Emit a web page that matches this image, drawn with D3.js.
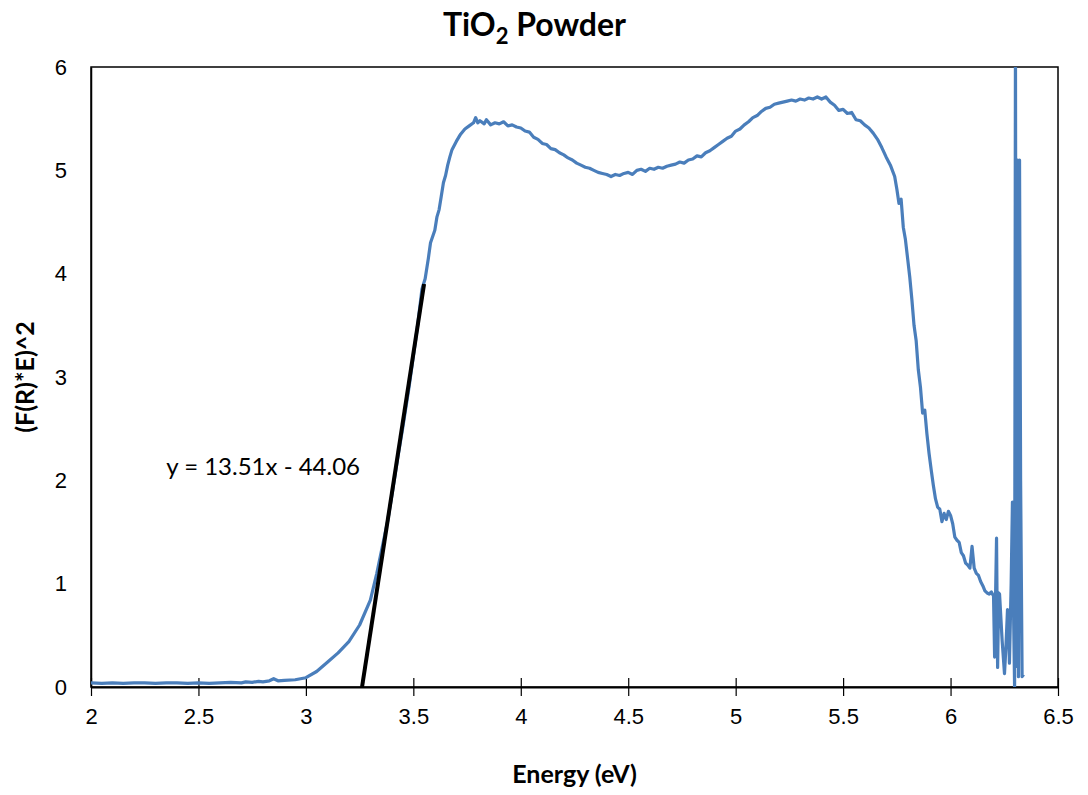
<!DOCTYPE html>
<html>
<head>
<meta charset="utf-8">
<script src="https://cdn.jsdelivr.net/npm/d3@7"></script>
<style>
	body { margin: 0; background: #fff; }
	svg { font-family: Lato, 'Open Sans', sans-serif; }
	.tick-label { fill: #000; }
	.axis-title { font-size: 25px; font-weight: bold; }
</style>
</head>
<body>
<svg id="chart-svg" width="1088" height="795"></svg>
<script>
// spectrum points: energy (eV) and (F(R)*E)^2
const energy = [
	2.00, 2.05, 2.10, 2.15, 2.20, 2.25, 2.30, 2.35, 2.40, 2.45, 2.50, 2.55, 2.60, 2.65, 2.70, 2.72, 2.75, 2.78, 2.80, 2.83,
	2.85, 2.87, 2.90, 2.95, 3.00, 3.05, 3.10, 3.15, 3.20, 3.25, 3.30, 3.33, 3.35, 3.38, 3.40, 3.43, 3.45, 3.48, 3.50, 3.52,
	3.54, 3.555, 3.57, 3.58, 3.60, 3.61, 3.62, 3.63, 3.64, 3.65, 3.66, 3.67, 3.68, 3.70, 3.72, 3.74, 3.76, 3.78, 3.79, 3.80,
	3.81, 3.83, 3.84, 3.86, 3.88, 3.90, 3.92, 3.94, 3.96, 3.98, 4.00, 4.02, 4.04, 4.06, 4.08, 4.10, 4.12, 4.14, 4.16, 4.18,
	4.20, 4.22, 4.24, 4.26, 4.28, 4.30, 4.32, 4.34, 4.36, 4.38, 4.40, 4.42, 4.44, 4.46, 4.48, 4.50, 4.52, 4.54, 4.56, 4.58,
	4.60, 4.62, 4.64, 4.66, 4.68, 4.70, 4.72, 4.74, 4.76, 4.78, 4.80, 4.82, 4.84, 4.86, 4.88, 4.90, 4.92, 4.94, 4.96, 4.98,
	5.00, 5.02, 5.04, 5.06, 5.08, 5.10, 5.12, 5.14, 5.16, 5.18, 5.20, 5.22, 5.24, 5.26, 5.28, 5.30, 5.32, 5.34, 5.36, 5.38,
	5.40, 5.42, 5.44, 5.46, 5.48, 5.50, 5.52, 5.54, 5.56, 5.58, 5.60, 5.62, 5.64, 5.66, 5.68, 5.70, 5.72, 5.74, 5.75, 5.76,
	5.77, 5.78, 5.79, 5.80, 5.81, 5.82, 5.83, 5.84, 5.85, 5.86, 5.87, 5.88, 5.89, 5.90, 5.91, 5.92, 5.93, 5.94, 5.95, 5.96,
	5.97, 5.98, 5.99, 6.00, 6.01, 6.02, 6.03, 6.04, 6.05, 6.06, 6.07, 6.08, 6.09, 6.10, 6.11, 6.12, 6.13, 6.14, 6.15, 6.16,
	6.17, 6.18, 6.19, 6.20, 6.205, 6.21, 6.214, 6.219, 6.224, 6.228, 6.24, 6.251, 6.258, 6.265, 6.27, 6.274, 6.282, 6.288, 6.294, 6.298,
	6.302, 6.306, 6.312, 6.316, 6.321, 6.326, 6.333, 6.340
];
const absorb = [
	0.04, 0.035, 0.04, 0.035, 0.04, 0.04, 0.035, 0.04, 0.04, 0.035, 0.04, 0.035, 0.04, 0.045, 0.04, 0.05, 0.045, 0.055, 0.05, 0.06,
	0.08, 0.06, 0.065, 0.07, 0.09, 0.15, 0.24, 0.33, 0.44, 0.60, 0.84, 1.10, 1.30, 1.60, 1.85, 2.25, 2.50, 2.90, 3.20, 3.50,
	3.85, 3.95, 4.15, 4.30, 4.42, 4.55, 4.62, 4.75, 4.88, 4.95, 5.05, 5.13, 5.20, 5.28, 5.35, 5.40, 5.43, 5.46, 5.51, 5.46,
	5.48, 5.45, 5.49, 5.44, 5.46, 5.45, 5.47, 5.43, 5.44, 5.42, 5.41, 5.38, 5.37, 5.32, 5.30, 5.26, 5.25, 5.21, 5.20, 5.17,
	5.15, 5.12, 5.10, 5.07, 5.05, 5.03, 5.02, 5.00, 4.98, 4.97, 4.96, 4.94, 4.96, 4.95, 4.97, 4.98, 4.96, 5.00, 5.01, 4.99,
	5.02, 5.01, 5.03, 5.02, 5.04, 5.05, 5.06, 5.08, 5.07, 5.10, 5.11, 5.14, 5.13, 5.17, 5.19, 5.22, 5.25, 5.28, 5.31, 5.33,
	5.38, 5.40, 5.44, 5.47, 5.51, 5.53, 5.57, 5.60, 5.61, 5.64, 5.65, 5.66, 5.67, 5.68, 5.67, 5.69, 5.68, 5.70, 5.69, 5.71,
	5.69, 5.71, 5.66, 5.63, 5.58, 5.59, 5.55, 5.56, 5.49, 5.48, 5.44, 5.41, 5.36, 5.30, 5.22, 5.13, 5.05, 4.94, 4.82, 4.68,
	4.72, 4.45, 4.33, 4.15, 3.97, 3.75, 3.50, 3.35, 3.07, 2.90, 2.65, 2.68, 2.45, 2.26, 2.10, 1.95, 1.82, 1.74, 1.72, 1.60,
	1.68, 1.62, 1.70, 1.66, 1.58, 1.45, 1.42, 1.40, 1.30, 1.27, 1.20, 1.18, 1.15, 1.36, 1.15, 1.10, 1.08, 1.02, 0.98, 0.93,
	0.91, 0.90, 0.92, 0.88, 0.29, 0.95, 1.44, 0.19, 0.91, 0.90, 0.45, 0.13, 0.40, 0.75, 0.55, 0.23, 1.00, 1.79, 0.60, 0.00,
	6.30, 0.20, 5.10, 0.10, 5.10, 2.00, 0.10, 0.12
];

// linear fit shown on the chart
const fitSlope = 13.51;
const fitIntercept = -44.06;
const fitRange = [44.06 / 13.51, 3.55];
const fitLabel = 'y = 13.51x - 44.06';

const xTicks = [2, 2.5, 3, 3.5, 4, 4.5, 5, 5.5, 6, 6.5];
const yTicks = [0, 1, 2, 3, 4, 5, 6];

const PADDING = { top: 67, bottom: 108, left: 91, right: 30 };
const svg = d3.select('#chart-svg');
const W = 1088, H = 795;
const TICK_FONT = '22px';

const xScale = d3.scaleLinear().domain([2, 6.5]).range([PADDING.left, W - PADDING.right]);
const yScale = d3.scaleLinear().domain([0, 6]).range([H - PADDING.bottom, PADDING.top]);

svg.append('defs').append('clipPath').attr('id', 'plot-clip')
	.append('rect')
	.attr('x', PADDING.left).attr('y', PADDING.top)
	.attr('width', W - PADDING.left - PADDING.right)
	.attr('height', H - PADDING.top - PADDING.bottom);

// plot frame
svg.append('rect')
	.attr('x', PADDING.left).attr('y', PADDING.top)
	.attr('width', W - PADDING.left - PADDING.right)
	.attr('height', H - PADDING.top - PADDING.bottom)
	.attr('fill', 'none').attr('stroke', '#000').attr('stroke-width', 1.5);

// x axis with crossing ticks
const xAxis = d3.axisBottom(xScale).tickValues(xTicks).tickSizeInner(9).tickSizeOuter(0).tickFormat(d3.format('~g'));
const xg = svg.append('g')
	.attr('transform', 'translate(0,' + yScale(0) + ')')
	.call(xAxis);
xg.select('.domain').attr('stroke', '#000').attr('stroke-width', 2);
xg.selectAll('.tick line').attr('y1', -9).attr('stroke', '#000').attr('stroke-width', 1.2);
xg.selectAll('.tick text').attr('class', 'tick-label').attr('dy', 0).attr('y', 37)
	.style('font-size', TICK_FONT).attr('font-family', null);

// y axis, no tick marks
const yAxis = d3.axisLeft(yScale).tickValues(yTicks).tickSize(0).tickPadding(24).tickFormat(d3.format('~g'));
const yg = svg.append('g')
	.attr('transform', 'translate(' + PADDING.left + ',0)')
	.call(yAxis);
yg.select('.domain').attr('stroke', '#000').attr('stroke-width', 1.5);
yg.selectAll('.tick text').attr('class', 'tick-label').style('font-size', TICK_FONT).attr('font-family', null);

// spectrum
const spectrum = energy.map((e, i) => [e, absorb[i]]);
const line = d3.line().x((d) => xScale(d[0])).y((d) => yScale(d[1]));
svg.append('path')
	.datum(spectrum)
	.attr('clip-path', 'url(#plot-clip)')
	.attr('d', line)
	.attr('fill', 'none')
	.attr('stroke', '#4a7ebb')
	.attr('stroke-width', 3.2)
	.attr('stroke-linejoin', 'round');

// fitted tangent
svg.append('path')
	.datum(fitRange.map((x) => [x, fitSlope * x + fitIntercept]))
	.attr('d', line)
	.attr('fill', 'none')
	.attr('stroke', '#000')
	.attr('stroke-width', 4);

svg.append('text')
	.attr('x', xScale(2.35)).attr('y', yScale(2.05))
	.style('font-size', '24px')
	.text(fitLabel);

// titles
const title = svg.append('text')
	.attr('x', (PADDING.left + W - PADDING.right) / 2 - 40).attr('y', 36)
	.attr('text-anchor', 'middle')
	.style('font-size', '32px').style('font-weight', 'bold');
title.append('tspan').text('TiO');
title.append('tspan').attr('dy', 8).style('font-size', '22px').text('2');
title.append('tspan').attr('dy', -8).text(' Powder');

svg.append('text')
	.attr('class', 'axis-title')
	.attr('x', (PADDING.left + W - PADDING.right) / 2).attr('y', 783)
	.attr('text-anchor', 'middle')
	.text('Energy (eV)');

svg.append('text')
	.attr('class', 'axis-title')
	.attr('transform', 'translate(34,' + (PADDING.top + H - PADDING.bottom) / 2 + ') rotate(-90)')
	.attr('text-anchor', 'middle')
	.text('(F(R)*E)^2');
</script>
</body>
</html>
